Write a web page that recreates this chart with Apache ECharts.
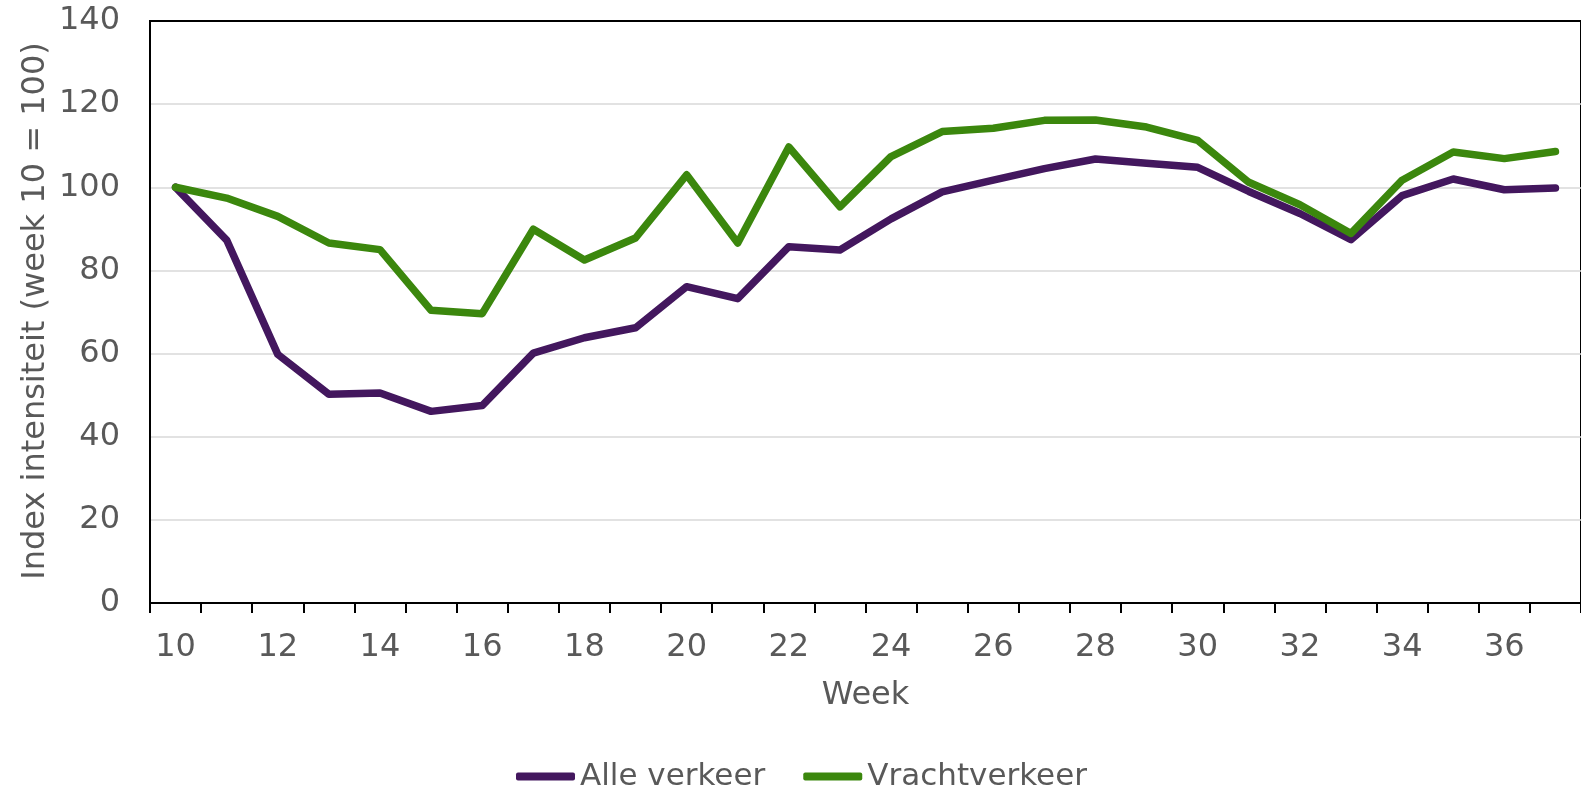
<!DOCTYPE html>
<html>
<head>
<meta charset="utf-8">
<script src="https://cdn.jsdelivr.net/npm/echarts@6/dist/echarts.min.js"></script>
<style>html,body{margin:0;padding:0;background:#fff}#c{width:1581px;height:787px}</style>
</head>
<body>
<div id="c"></div>
<script>
const weeks = ['10','11','12','13','14','15','16','17','18','19','20','21','22','23','24','25','26','27','28','29','30','31','32','33','34','35','36','37'];
const alleVerkeer = [100, 87.3, 59.8, 50.2, 50.5, 46.1, 47.5, 60.1, 63.8, 66.2, 76.1, 73.2, 85.7, 84.9, 92.4, 98.9, 101.7, 104.5, 106.8, 105.8, 104.8, 99.0, 93.7, 87.4, 98.0, 102.0, 99.4, 99.8];
const vrachtverkeer = [100, 97.4, 93.0, 86.6, 85.0, 70.4, 69.6, 89.9, 82.5, 87.8, 103.0, 86.6, 109.7, 95.3, 107.4, 113.4, 114.2, 116.1, 116.2, 114.5, 111.3, 101.2, 95.8, 88.9, 101.7, 108.5, 106.9, 108.6];
const seriesNames = ['Alle verkeer', 'Vrachtverkeer'];
const xName = 'Week';
const yName = 'Index intensiteit (week 10 = 100)';

const FONT = 'DejaVu Sans';
const TXT = '#595959';
const FS = 32;
const chart = echarts.init(document.getElementById('c'));
chart.setOption({
  animation: false,
  textStyle: { fontFamily: FONT },
  grid: { left: 150, top: 21, width: 1443.6, height: 582, show: true, borderColor: '#000', borderWidth: 2, backgroundColor: 'transparent' },
  graphic: [{
    type: 'text', x: 36, y: 311, rotation: Math.PI / 2,
    style: { text: yName, fontFamily: FONT, fontSize: FS, fill: TXT, align: 'center', verticalAlign: 'middle' }
  }],
  legend: {
    left: 511, top: 756,
    itemWidth: 59, itemHeight: 8, itemGap: 38,
    icon: 'roundRect',
    textStyle: { fontFamily: FONT, fontSize: 31, color: TXT },
    data: seriesNames
  },
  xAxis: {
    type: 'category', data: weeks, boundaryGap: true,
    name: xName, nameLocation: 'middle', nameGap: 77,
    nameTextStyle: { fontFamily: FONT, fontSize: FS, color: TXT },
    axisLine: { lineStyle: { color: '#000', width: 2 } },
    axisTick: { show: true, interval: 0, length: 10, lineStyle: { color: '#000', width: 2 } },
    axisLabel: { interval: 1, margin: 29, fontFamily: FONT, fontSize: FS, color: TXT },
    splitLine: { show: false }
  },
  yAxis: {
    type: 'value', min: 0, max: 140, interval: 20,
    axisLine: { show: true, lineStyle: { color: '#000', width: 2 } },
    axisTick: { show: false },
    axisLabel: { margin: 30, fontFamily: FONT, fontSize: FS, color: TXT },
    splitLine: { show: true, showMaxLine: false, showMinLine: false, lineStyle: { color: '#d9d9d9', width: 1.5 } }
  },
  series: [
    { name: seriesNames[0], type: 'line', data: alleVerkeer, showSymbol: false, symbol: 'none', color: '#43175E',
      lineStyle: { width: 7.5, color: '#43175E', cap: 'round', join: 'round' }, z: 3 },
    { name: seriesNames[1], type: 'line', data: vrachtverkeer, showSymbol: false, symbol: 'none', color: '#3B870D',
      lineStyle: { width: 7.5, color: '#3B870D', cap: 'round', join: 'round' }, z: 4 }
  ]
});
</script>
</body>
</html>
